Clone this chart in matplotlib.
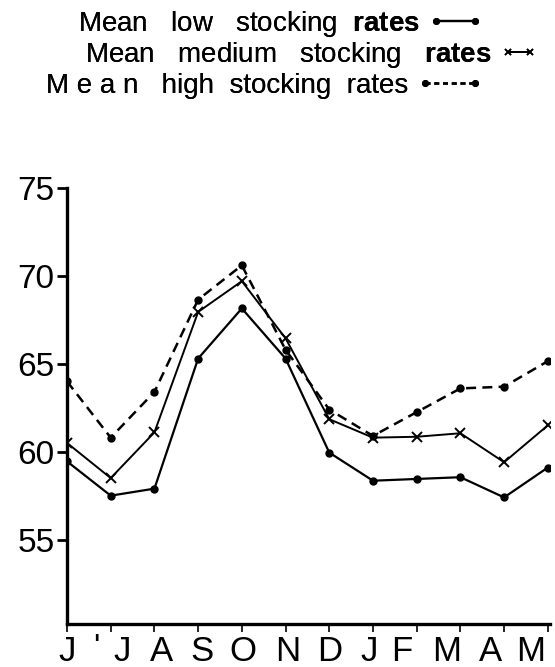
import matplotlib
matplotlib.use("Agg")
import matplotlib.pyplot as plt
from matplotlib.lines import Line2D
from matplotlib import transforms

plt.rcParams['font.family'] = ['Liberation Sans', 'DejaVu Sans']
plt.rcParams['mathtext.fontset'] = 'custom'
plt.rcParams['mathtext.rm'] = 'Liberation Sans'
plt.rcParams['mathtext.bf'] = 'Liberation Sans:bold'

months = ["J", "J", "A", "S", "O", "N", "D", "J", "F", "M", "A", "M"]
low = [59.45, 57.5, 57.9, 65.3, 68.15, 65.3, 59.95, 58.35, 58.45, 58.55, 57.4, 59.1]
medium = [60.5, 58.5, 61.1, 67.95, 69.7, 66.45, 61.85, 60.8, 60.85, 61.05, 59.4, 61.5]
high = [64.0, 60.8, 63.4, 68.65, 70.6, 65.8, 62.4, 60.9, 62.25, 63.6, 63.7, 65.15]
yticks = [55, 60, 65, 70, 75]
labels = [r"Mean   low   stocking  $\mathbf{rates}$",
          r"Mean   medium   stocking   $\mathbf{rates}$",
          "M e a n   high  stocking  rates"]

# layout: horizontal shift of each month label relative to its tick (in month units)
label_shift = [0, 0.27, 0.16, 0.09, 0.02, 0.05, 0, -0.09, -0.34, -0.32, -0.32, -0.39]

fig = plt.figure(figsize=(5.55, 6.67), dpi=100)
ax = fig.add_axes([67/555, 1-624/667, (550-67)/555, (624-188)/667])
x = list(range(len(months)))

l1, = ax.plot(x, low, color='black', lw=1.6, marker='o', ms=5)
l2, = ax.plot(x, medium, color='black', lw=1.4, marker='x', ms=6.5, mew=1.4)
l3, = ax.plot(x, high, color='black', lw=1.8, ls=(0, (4, 2.5)), marker='o', ms=5)

ax.set_xlim(0, 11.05)
ax.set_ylim(50.2, 75)
ax.set_yticks(yticks)
ax.set_yticklabels([str(v) for v in yticks], fontsize=24)
ax.xaxis.remove_overlapping_locs = False
ax.set_xticks(x)
ax.set_xticklabels([""] * len(x))
ax.set_xticks([xi + s for xi, s in zip(x, label_shift)], minor=True)
ax.set_xticklabels(months, minor=True, fontsize=25)
ax.tick_params(axis='y', length=7, width=2, pad=2)
ax.tick_params(axis='x', which='major', length=6, width=1.2)
ax.tick_params(axis='x', which='minor', length=0, pad=8)
for s in ['top', 'right']:
    ax.spines[s].set_visible(False)
for s in ['left', 'bottom']:
    ax.spines[s].set_linewidth(2.4)

trans = transforms.blended_transform_factory(ax.transData, ax.transAxes)
ax.text(0.66, -0.02, "'", transform=trans, fontsize=24, ha='center', va='top')

handles = [
    Line2D([], [], color='black', lw=1.6, marker='o', ms=4),
    Line2D([], [], color='black', lw=1.4, marker='x', ms=5, mew=1.2),
    Line2D([], [], color='black', lw=1.8, ls=(0, (2, 1.5)), marker='o', ms=4),
]
pos = [(78/555, 1-24/667), (85/555, 1-55/667), (46/555, 1-86/667)]
hlen = [2.0, 1.4, 2.4]
for h, lab, p, hl in zip(handles, labels, pos, hlen):
    leg = fig.legend(handles=[h], labels=[lab], loc='center left', bbox_to_anchor=p,
                     markerfirst=False, frameon=False, fontsize=20, borderpad=0,
                     borderaxespad=0, handlelength=hl, handletextpad=0.3, numpoints=2)
    fig.add_artist(leg)

fig.savefig("out.png", dpi=100)
